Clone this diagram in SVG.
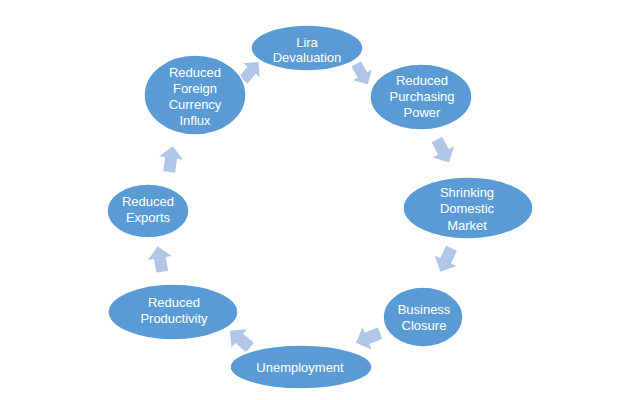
<svg xmlns="http://www.w3.org/2000/svg" width="640" height="400" viewBox="0 0 640 400">
<defs>
<style>
.n ellipse{fill:#5b9bd5;stroke:#ffffff;stroke-width:1.5}
.n text{fill:#ffffff;font-family:"Liberation Sans",Arial,sans-serif;font-size:13px;text-anchor:middle}
.a{fill:#b0c6e6}
</style>
<polygon id="arr" points="-13,-6 1,-6 1,-12 13,0 1,12 1,6 -13,6"/>
</defs>
<rect width="640" height="400" fill="#ffffff"/>
<g id="connectors" class="a">
<use href="#arr" transform="translate(251,71) rotate(-50) scale(0.9)"/>
<use href="#arr" transform="translate(362,74) rotate(60) scale(0.9)"/>
<use href="#arr" transform="translate(443,151) rotate(62)"/>
<use href="#arr" transform="translate(446,260) rotate(115)"/>
<use href="#arr" transform="translate(368,338) rotate(158)"/>
<use href="#arr" transform="translate(240,339) rotate(-140)"/>
<use href="#arr" transform="translate(160,259) rotate(-100)"/>
<use href="#arr" transform="translate(171,159) rotate(-82)"/>
</g>
<g id="lira" class="n">
<ellipse cx="307" cy="48" rx="56" ry="23"/>
<text x="307" y="46.5">Lira</text>
<text x="307" y="62">Devaluation</text>
</g>
<g id="purchasing" class="n">
<ellipse cx="421" cy="97" rx="51" ry="33"/>
<text x="422" y="84.5">Reduced</text>
<text x="422" y="100.5">Purchasing</text>
<text x="422" y="116.5">Power</text>
</g>
<g id="shrinking" class="n">
<ellipse cx="468" cy="208" rx="65" ry="31"/>
<text x="467" y="196.5">Shrinking</text>
<text x="467" y="213">Domestic</text>
<text x="467" y="229.5">Market</text>
</g>
<g id="business" class="n">
<ellipse cx="423" cy="317" rx="40" ry="30"/>
<text x="424" y="313.5">Business</text>
<text x="424" y="329.5">Closure</text>
</g>
<g id="unemployment" class="n">
<ellipse cx="301" cy="367" rx="71" ry="22"/>
<text x="300" y="371.5">Unemployment</text>
</g>
<g id="productivity" class="n">
<ellipse cx="173" cy="312" rx="65" ry="28"/>
<text x="174" y="306.5">Reduced</text>
<text x="174" y="322.5">Productivity</text>
</g>
<g id="exports" class="n">
<ellipse cx="148" cy="211" rx="41" ry="27"/>
<text x="148" y="205.5">Reduced</text>
<text x="148" y="221.5">Exports</text>
</g>
<g id="foreign" class="n">
<ellipse cx="195" cy="95" rx="51" ry="40"/>
<text x="195" y="76.5">Reduced</text>
<text x="195" y="92.5">Foreign</text>
<text x="195" y="108.5">Currency</text>
<text x="195" y="125">Influx</text>
</g>
</svg>
